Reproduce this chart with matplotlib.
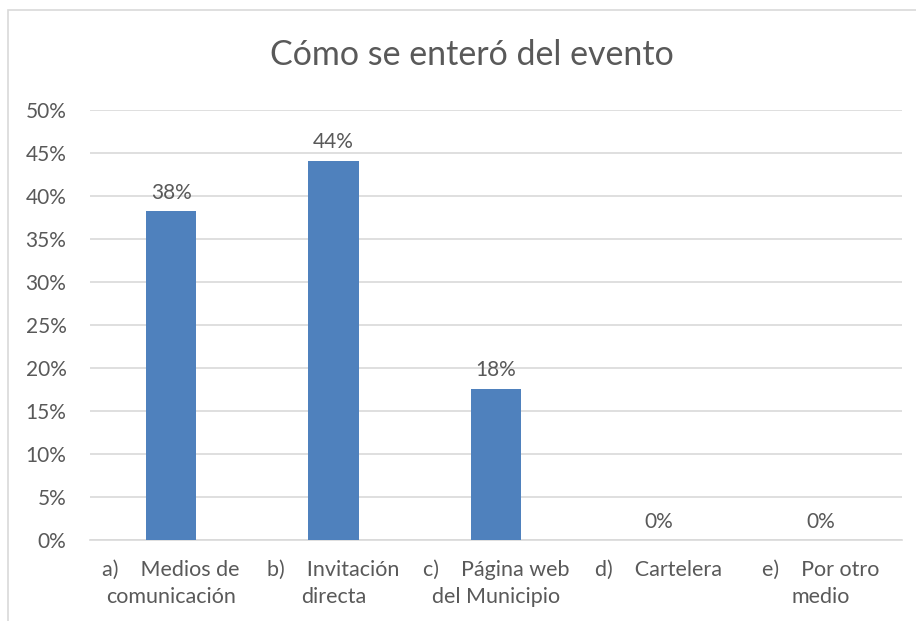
import matplotlib.pyplot as plt
from matplotlib.patches import Rectangle
from matplotlib.ticker import PercentFormatter

# data
categories = ['a)    Medios de\ncomunicación', 'b)    Invitación\ndirecta',
              'c)    Página web\ndel Municipio', 'd)    Cartelera', 'e)    Por otro\nmedio']
values = [0.382, 0.441, 0.176, 0.0, 0.0]
title = 'Cómo se enteró del evento'

plt.rcParams['font.family'] = ['Lato', 'DejaVu Sans']
txt = '#595959'
grid = '#D9D9D9'
blue = '#4F81BD'

fig = plt.figure(figsize=(9.16, 6.21), dpi=100)
# chart frame
fig.patches.append(Rectangle((8/916, -0.05), 1.0, 1 - 10/621 + 0.05,
                             transform=fig.transFigure, fill=False,
                             edgecolor=grid, linewidth=1.2))
ax = fig.add_axes([90/916, 1 - 540/621, (902 - 90)/916, (540 - 110)/621])
x = range(len(categories))
ax.bar(x, values, width=0.31, color=blue, zorder=3)
for xi, v in zip(x, values):
    ax.annotate('{:.0f}%'.format(v*100), (xi, v), xytext=(0, 6),
                textcoords='offset points', ha='center', va='bottom',
                fontsize=15, color=txt)
ax.set_xlim(-0.5, len(categories) - 0.5)
ax.set_ylim(0, 0.5)
ax.set_yticks([i*0.05 for i in range(11)])
ax.yaxis.set_major_formatter(PercentFormatter(1.0, decimals=0))
ax.set_xticks(list(x))
ax.set_xticklabels(categories, fontsize=15.5, color=txt, linespacing=1.45)
ax.tick_params(axis='y', labelsize=15, labelcolor=txt, length=0, pad=17)
ax.tick_params(axis='x', length=0, pad=14)
ax.grid(axis='y', color=grid, linewidth=1.2, zorder=0)
for s in ['top', 'right', 'left']:
    ax.spines[s].set_visible(False)
ax.spines['bottom'].set_color(grid)
ax.spines['bottom'].set_linewidth(1.2)
fig.text(0.5 + 14/916, 1 - 55/621, title, ha='center', va='center',
         fontsize=24.5, color=txt)
fig.savefig('out.png', dpi=100)
